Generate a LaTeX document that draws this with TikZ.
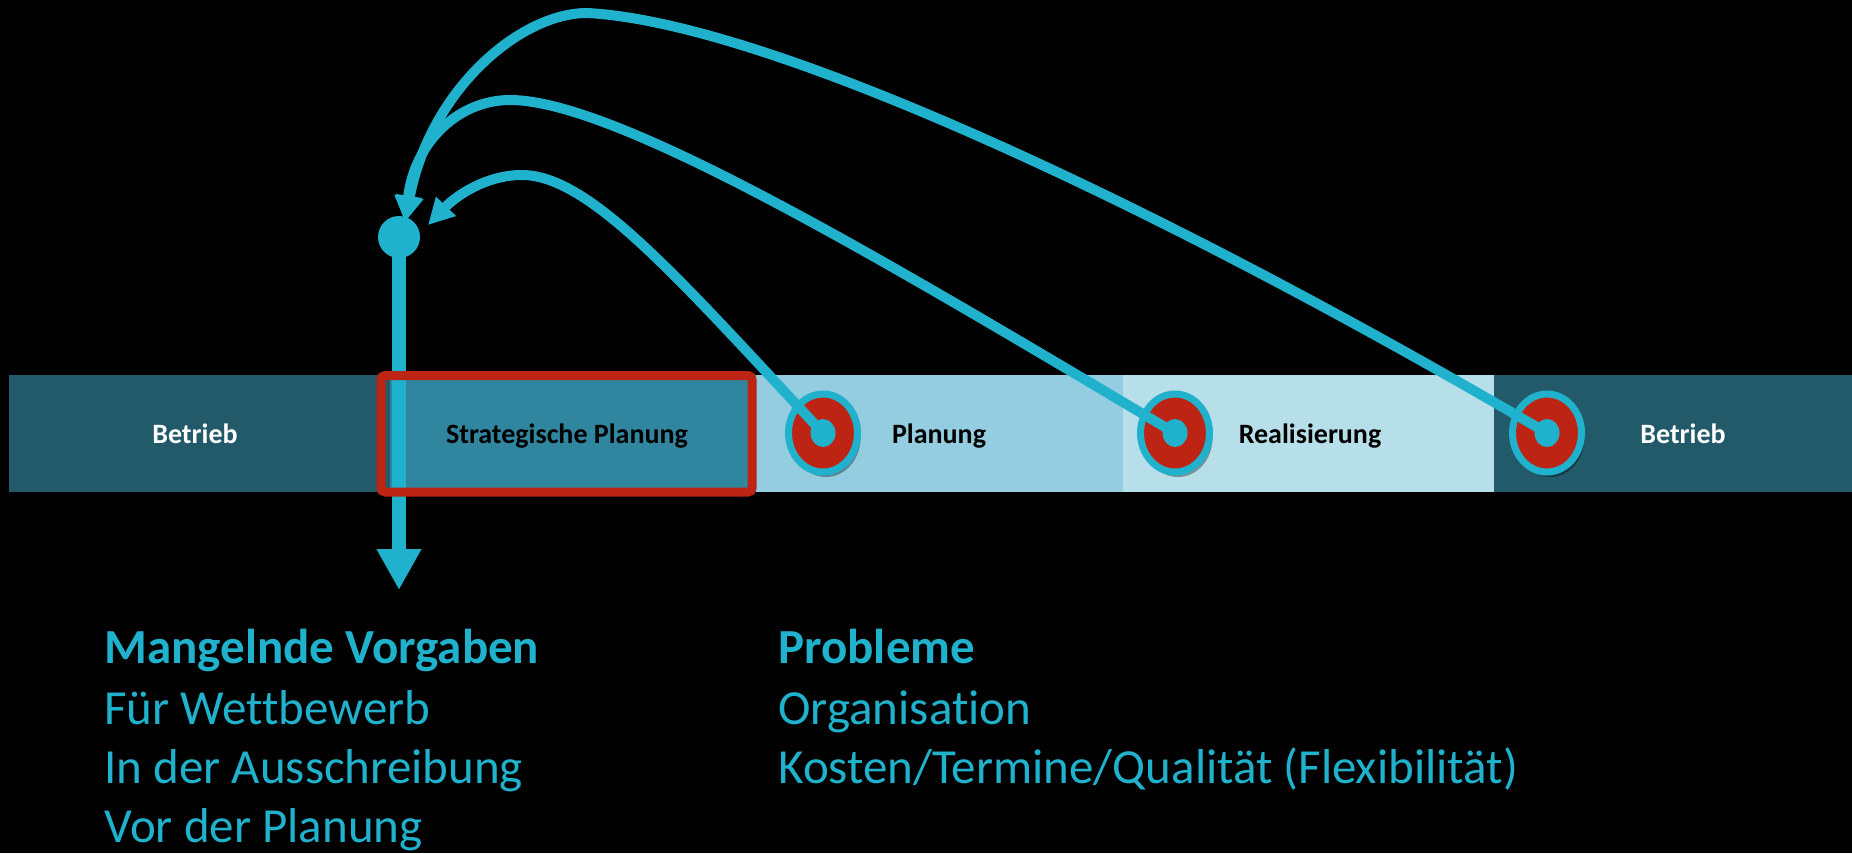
\documentclass[tikz,border=0pt]{standalone}
\usepackage{fontspec}
\setmainfont[Ligatures={TeX,NoCommon}]{Carlito}
\usetikzlibrary{arrows.meta,shapes.geometric,shadows,calc}
\definecolor{accent}{HTML}{20B2CC}
\definecolor{alarm}{HTML}{BE2413}
\definecolor{darkteal}{HTML}{225A69}
\definecolor{midteal}{HTML}{30869F}
\definecolor{lightteal}{HTML}{93CDDF}
\definecolor{paleteal}{HTML}{B7DFE9}
\begin{document}
\begin{tikzpicture}[x=0.5pt,y=-0.5pt,
  phase/.style={font=\fontsize{14}{17}\selectfont\bfseries, anchor=base, inner sep=0pt},
  headline/.style={font=\fontsize{24.5}{30}\selectfont\bfseries, text=accent, anchor=base west, inner sep=0pt},
  item/.style={font=\fontsize{24.5}{30}\selectfont, text=accent, anchor=base west, inner sep=0pt},
  target/.style={ellipse, minimum width=34.5pt, minimum height=39pt, inner sep=0pt,
    fill=alarm, draw=accent, line width=3.5pt,
    drop shadow={shadow xshift=1.5pt, shadow yshift=-2.5pt, opacity=0.35, fill=black}},
  bullseye/.style={ellipse, minimum width=12.5pt, minimum height=14pt, inner sep=0pt, fill=accent},
  feedback/.style={draw=accent, line width=5pt, line cap=round,
    -{Triangle[length=13pt,width=13pt]}},
]
% canvas
\fill[black] (0,0) rectangle (1852,853);
\useasboundingbox (0,0) rectangle (1852,853);

% phase band
\fill[darkteal]  (9,375)    rectangle (390,492);
\fill[midteal]   (390,375)  rectangle (756,492);
\fill[lightteal] (756,375)  rectangle (1123,492);
\fill[paleteal]  (1123,375) rectangle (1494,492);
\fill[darkteal]  (1494,375) rectangle (1852,492);

% problem markers
\node[target] (c1) at (823,433) {};
\node[bullseye] (d1) at (c1.center) {};
\node[target] (c2) at (1175,433) {};
\node[bullseye] (d2) at (c2.center) {};
\node[target] (c3) at (1547,433) {};
\node[bullseye] (d3) at (c3.center) {};

% collection point
\node[circle, fill=accent, minimum size=21pt, inner sep=0pt] (dot) at (399,237) {};
\coordinate (in1) at (428,225);
\coordinate (in23) at (405,222);
\coordinate (out) at (399,590);

% feedback loops
\draw[feedback] (d3.center) .. controls (1150,200) and (765,22) .. (587,13)
  .. controls (520,13) and (430,90) .. (in23);
\draw[feedback] (d2.center) .. controls (900,270) and (620,100) .. (510,100)
  .. controls (460,100) and (415,140) .. (in23);
\draw[feedback] (d1.center) .. controls (680,280) and (590,175) .. (522,175)
  .. controls (485,175) and (455,197) .. (in1);

% consequence arrow
\draw[accent, line width=6.8pt, -{Triangle[length=20.5pt,width=21pt]}] (dot.center) -- (out);

% highlight frame
\draw[alarm, line width=4.5pt, rounded corners=2pt] (381,375.5) rectangle (752,492);

% phase labels
\node[phase, text=white] (p1) at (195,443) {Betrieb};
\node[phase, text=black] (p2) at (567,443) {Strategische Planung};
\node[phase, text=black] (p3) at (939,443) {Planung};
\node[phase, text=black] (p4) at (1310,443) {Realisierung};
\node[phase, text=white] (p5) at (1683,443) {Betrieb};

% notes
\node[headline] (h1) at (104,663) {Mangelnde Vorgaben};
\node[item] (l1) at (104,724) {Für Wettbewerb};
\node[item] (l2) at (104,783) {In der Ausschreibung};
\node[item] (l3) at (104,842) {Vor der Planung};
\node[headline] (h2) at (778,663) {Probleme};
\node[item] (r1) at (778,724) {Organisation};
\node[item] (r2) at (778,783) {Kosten/Termine/Qualität (Flexibilität)};
\end{tikzpicture}
\end{document}
